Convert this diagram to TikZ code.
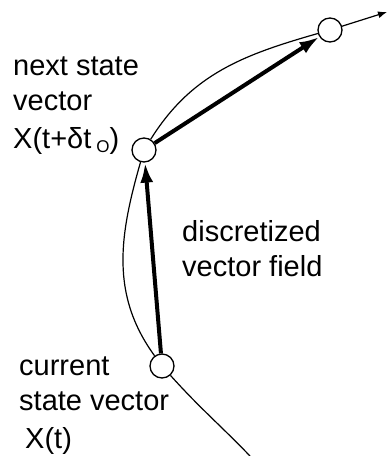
\documentclass[tikz,border=0pt]{standalone}
\usepackage{fontspec}
\setmainfont{Liberation Sans}
\usetikzlibrary{arrows.meta}
\tikzset{
  state/.style={circle, draw, fill=white, line width=1.3pt, minimum size=24pt, inner sep=0pt},
  traj/.style={line width=1.2pt},
  flow/.style={line width=4pt, -{Latex[length=20pt,width=13pt]}},
  lbl/.style={anchor=base west, inner sep=0pt, align=left, font=\fontsize{29}{35}\selectfont}
}
\begin{document}
\begin{tikzpicture}[x=1pt,y=-1pt]
\useasboundingbox (0,0) rectangle (388,456);
\node[state] (c1) at (162,366) {};
\node[state] (c2) at (144,150) {};
\node[state] (c3) at (330,30) {};
\coordinate (start) at (250,456);
\coordinate (tip) at (387,12);
% trajectory
\draw[traj] (start) to[out=134,in=-48] (c1);
\draw[traj] (c1) to[out=126,in=-106] (c2);
\draw[traj] (c2) to[out=58,in=196] (c3);
\draw[traj, -{Latex[length=9pt,width=7pt]}] (c3) -- (tip);
% discretized vector field
\draw[flow] (c1) -- (c2);
\draw[flow] (c2) -- (c3);
% labels (anchored at the baseline of the last line)
\node[lbl] (next) at (13,148) {next state\\vector\\[3pt]X(t+δt\hspace{5pt}\raisebox{-4pt}{\fontsize{17}{17}\selectfont O})};
\node[lbl] (field) at (182,276) {discretized\\vector field};
\node[lbl] (cur) at (19,448) {current\\state vector\\[3pt]\hspace{6pt}X(t)};
\end{tikzpicture}
\end{document}
